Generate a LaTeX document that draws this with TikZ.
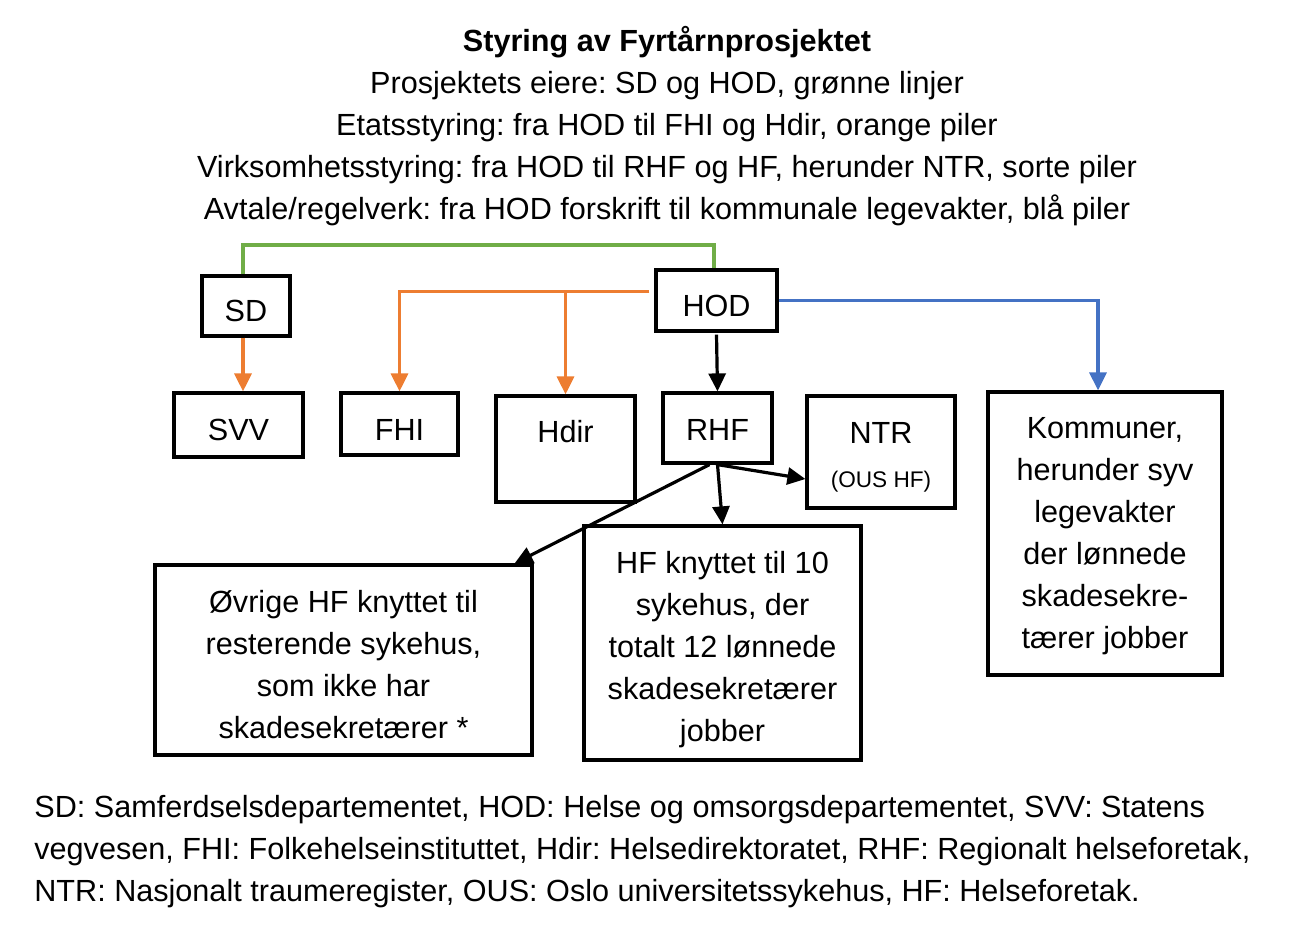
\documentclass[tikz,border=0pt]{standalone}
\usepackage{fontspec}
\setmainfont{Liberation Sans}
\usetikzlibrary{arrows.meta}
\definecolor{lgreen}{HTML}{70AD47}
\definecolor{lorange}{HTML}{ED7D31}
\definecolor{lblue}{HTML}{4472C4}
\frenchspacing
\newcommand{\lowr}[2]{\raisebox{-#1}[\height][\depth]{#2}}
\tikzset{
  box/.style={draw=black, line width=1.6pt, inner sep=0pt, align=center, font=\fontsize{15.3}{21}\selectfont},
  conn/.style={line width=1.6pt, -{Triangle[length=9pt,width=8.5pt]}},
  txt/.style={inner sep=0pt, align=center, font=\fontsize{15.3}{21}\selectfont},
}
\begin{document}
\begin{tikzpicture}[x=0.5pt,y=-0.5pt]
\useasboundingbox (0,0) rectangle (1306,931);
% title
\node[txt, font=\bfseries\fontsize{15.3}{21}\selectfont] (title) at (667,42) {Styring av Fyrtårnprosjektet};
\node[txt] (sub) at (667,149) {Prosjektets eiere: SD og HOD, grønne linjer\\
Etatsstyring: fra HOD til FHI og Hdir, orange piler\\
Virksomhetsstyring: fra HOD til RHF og HF, herunder NTR, sorte piler\\
Avtale/regelverk: fra HOD forskrift til kommunale legevakter, blå piler};
% boxes
\node[box, minimum width=44pt, minimum height=30pt] (sd) at (246,306) {\lowr{2.5pt}{SD}};
\node[box, minimum width=60.5pt, minimum height=30.5pt] (hod) at (716.5,300.5) {\lowr{2.5pt}{HOD}};
\node[box, minimum width=64.5pt, minimum height=32pt] (svv) at (238.5,425) {\lowr{2.5pt}{SVV}};
\node[box, minimum width=58.5pt, minimum height=31pt] (fhi) at (399.5,424) {\lowr{3pt}{FHI}};
\node[box, minimum width=69.5pt, minimum height=53pt] (hdir) at (565.5,449) {};
\node[txt] (hdirt) at (565.5,432) {Hdir};
\node[box, minimum width=54.5pt, minimum height=35pt] (rhf) at (717.5,428) {\lowr{1pt}{RHF}};
\node[box, minimum width=74pt, minimum height=56pt] (ntr) at (881,452) {\lowr{2.5pt}{\begin{tabular}{@{}c@{}}NTR\\[1pt]{\fontsize{11.3}{12}\selectfont (OUS HF)}\end{tabular}}};
\node[box, minimum width=117pt, minimum height=141.5pt] (komm) at (1105,533.5) {\lowr{1pt}{\begin{tabular}{@{}c@{}}Kommuner,\\herunder syv\\legevakter\\der lønnede\\skadesekre-\\tærer jobber\end{tabular}}};
\node[box, minimum width=188.5pt, minimum height=95pt] (ovr) at (343.5,660) {\lowr{3.5pt}{\begin{tabular}{@{}c@{}}Øvrige HF knyttet til\\resterende sykehus,\\som ikke har\\skadesekretærer *\end{tabular}}};
\node[box, minimum width=138.5pt, minimum height=117pt] (hf) at (722.5,643) {\lowr{3pt}{\begin{tabular}{@{}c@{}}HF knyttet til 10\\sykehus, der\\totalt 12 lønnede\\skadesekretærer\\jobber\end{tabular}}};
% green ownership line
\draw[lgreen, line width=2pt] ([xshift=-1.5pt]sd.north) -- ++(0,-29) -| ([xshift=-1.5pt]hod.north);
% orange
\draw[conn, lorange] ([xshift=-1.5pt]sd.south) -- ([xshift=-1.5pt]sd.south |- svv.north);
\coordinate (hodw) at ([xshift=-2.5pt,yshift=4.5pt]hod.west);
\draw[conn, lorange] (hodw) -| (fhi.north);
\draw[conn, lorange] (hdir.north |- hodw) -- (hdir.north);
% black
\draw[conn, black] ([yshift=-1pt]hod.south) -- (rhf.north);
\draw[conn, black] (rhf.south) -- ([yshift=-13.5pt]ntr.west);
\draw[conn, black] (rhf.south) -- (hf.north);
\draw[conn, black] ([xshift=-4pt]rhf.south) -- ([xshift=-9.5pt]ovr.north east);
% blue
\draw[conn, lblue] (hod.east) -| ([xshift=-3.5pt]komm.north);
% footer
\node[txt, anchor=west, align=left] (foot) at (34,852) {SD: Samferdselsdepartementet, HOD: Helse og omsorgsdepartementet, SVV: Statens\\
vegvesen, FHI: Folkehelseinstituttet, Hdir: Helsedirektoratet, RHF: Regionalt helseforetak,\\
NTR: Nasjonalt traumeregister, OUS: Oslo universitetssykehus, HF: Helseforetak.};
\end{tikzpicture}
\end{document}
